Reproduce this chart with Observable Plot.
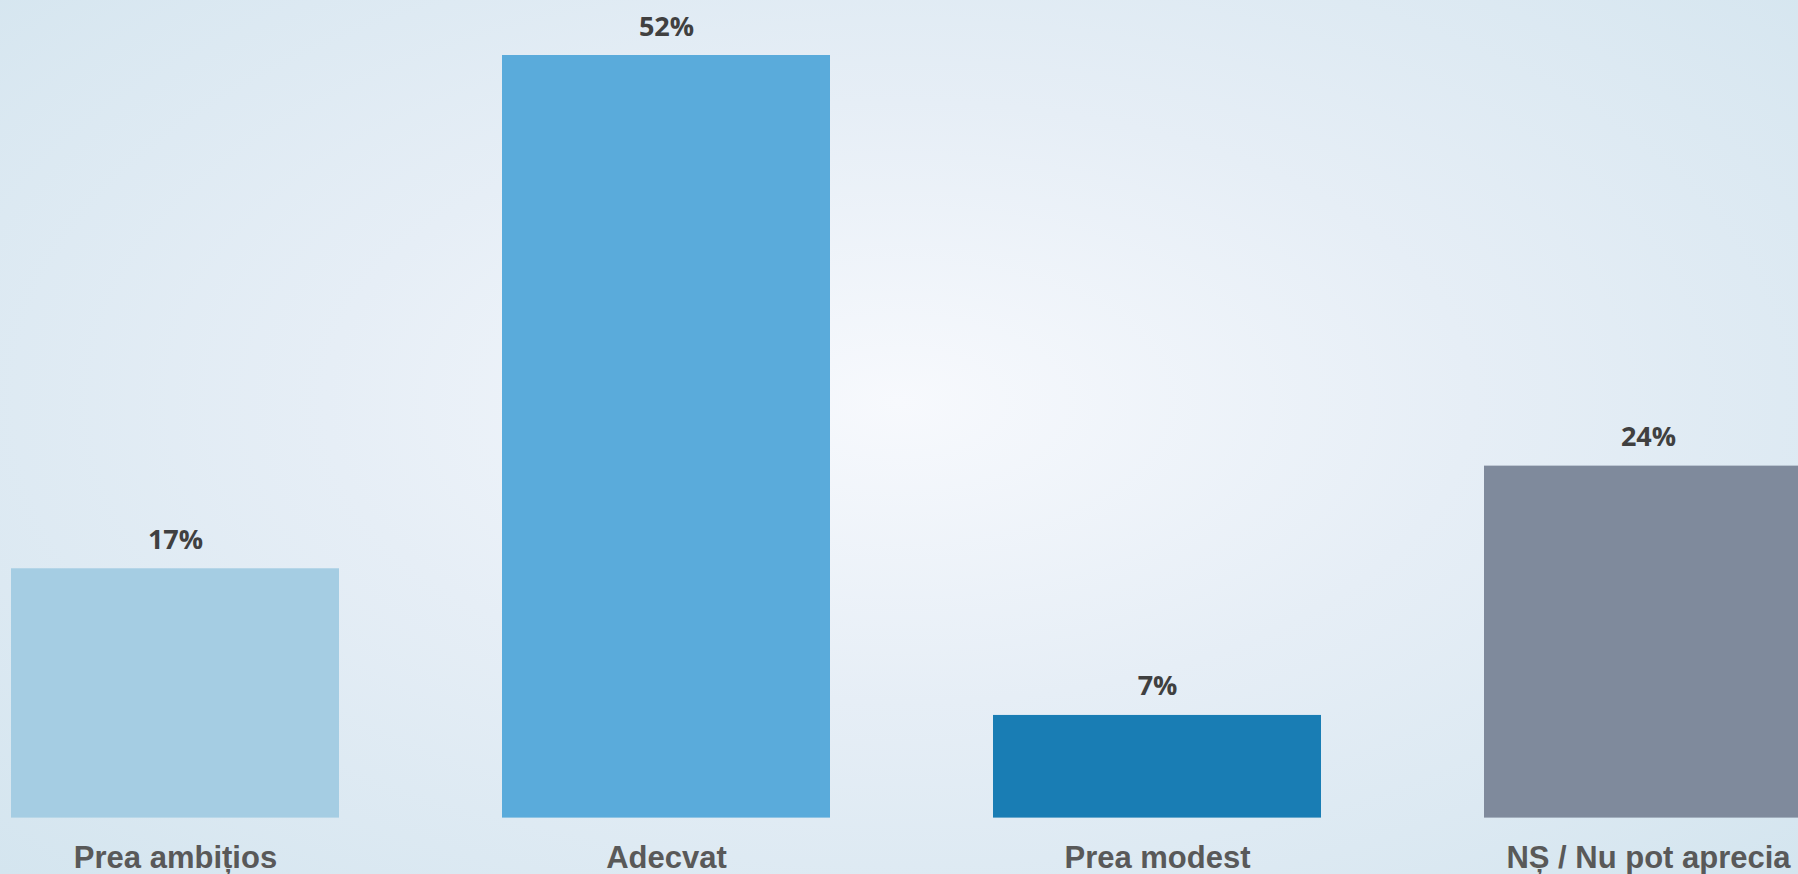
<!DOCTYPE html>
<html>
<head>
<meta charset="utf-8">
<script src="https://cdn.jsdelivr.net/npm/d3@7"></script>
<script src="https://cdn.jsdelivr.net/npm/@observablehq/plot@0.6"></script>
<style>
  html, body { margin: 0; padding: 0; overflow: hidden; }
  body {
    width: 1798px; height: 874px;
    background: radial-gradient(ellipse farthest-corner at 50% 46%, #f7f9fd 0%, #e6eef6 45%, #d4e5ef 100%);
  }
  #chart svg { background: transparent !important; display: block; }
</style>
</head>
<body>
<div id="chart"></div>
<script>
const categories = ["Prea ambițios", "Adecvat", "Prea modest", "NȘ / Nu pot aprecia"];
const values = [17, 52, 7, 24];
const labels = ["17%", "52%", "7%", "24%"];
const colors = ["#a5cde3", "#5aabdb", "#197db4", "#7f8a9c"];

const data = categories.map((c, i) => ({category: c, value: values[i], label: labels[i], color: colors[i]}));

const chart = Plot.plot({
  width: 1798,
  height: 874,
  marginTop: 55,
  marginBottom: 56.4,
  marginLeft: 0,
  marginRight: 0,
  style: {background: "transparent", overflow: "hidden"},
  x: {domain: categories, range: [-70.5, 1893.5], paddingInner: 0.332, paddingOuter: 0.166, align: 0.5},
  y: {domain: [0, 52], axis: null},
  color: {type: "identity"},
  marks: [
    Plot.barY(data, {x: "category", y: "value", fill: "color"}),
    Plot.text(data, {
      x: "category", y: "value", text: "label",
      lineAnchor: "bottom", dy: -20,
      fontSize: 27, fontWeight: "bold", fill: "#404040",
      fontFamily: "'Open Sans', sans-serif"
    }),
    Plot.axisX({
      tickSize: 0, tickPadding: 28,
      fontSize: 31, fontWeight: "bold", fill: "#595959",
      fontFamily: "'Liberation Sans', Arial, sans-serif",
      label: null
    })
  ]
});
document.getElementById("chart").appendChild(chart);
</script>
</body>
</html>
